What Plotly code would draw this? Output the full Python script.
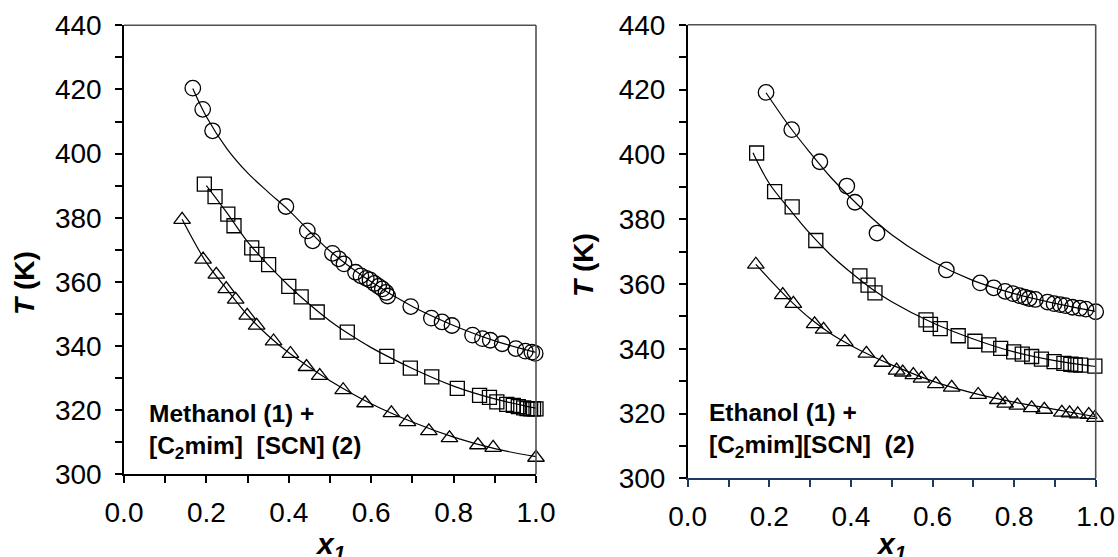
import plotly.graph_objects as go

# ---------------- Methanol (1) + [C2mim][SCN] (2) ----------------
meoh_circ_x = [0.167, 0.191, 0.215, 0.393, 0.445, 0.458, 0.506, 0.521, 0.534, 0.562, 0.575,
               0.588, 0.597, 0.608, 0.618, 0.627, 0.636, 0.640, 0.696, 0.746, 0.772, 0.796,
               0.846, 0.870, 0.889, 0.918, 0.951, 0.974, 0.990, 0.998]
meoh_circ_T = [420.4, 413.8, 407.1, 383.5, 375.9, 372.8, 368.9, 367.2, 365.6, 363.0, 361.9,
               361.1, 360.6, 359.5, 358.6, 357.8, 356.7, 355.6, 352.3, 348.7, 347.5, 346.4,
               343.4, 342.3, 341.8, 340.7, 339.2, 338.4, 338.1, 337.7]

meoh_sq_x = [0.195, 0.221, 0.252, 0.267, 0.310, 0.323, 0.351, 0.400, 0.430, 0.469, 0.542,
             0.638, 0.695, 0.747, 0.809, 0.863, 0.887, 0.905, 0.929, 0.945, 0.957, 0.970,
             0.978, 0.987, 0.994, 1.000]
meoh_sq_T = [390.5, 386.6, 381.1, 377.5, 370.6, 368.6, 365.4, 358.6, 355.3, 350.6, 344.3,
             336.8, 333.1, 330.4, 326.8, 324.6, 324.0, 322.6, 321.8, 321.5, 321.1, 320.7,
             320.5, 320.4, 320.4, 320.4]

meoh_tri_x = [0.141, 0.192, 0.224, 0.248, 0.271, 0.299, 0.322, 0.363, 0.404, 0.443, 0.475,
              0.532, 0.585, 0.649, 0.688, 0.740, 0.790, 0.859, 0.896, 1.000]
meoh_tri_T = [379.4, 367.0, 362.3, 357.8, 354.5, 349.5, 346.4, 341.5, 337.6, 333.5, 330.7,
              326.3, 322.2, 319.1, 316.3, 313.5, 311.3, 309.1, 308.3, 305.2]

# fitted curves
meoh_fit_circ_x = [0.167, 0.2, 0.25, 0.3, 0.35, 0.4, 0.45, 0.5, 0.6, 0.7, 0.8, 0.9, 1.0]
meoh_fit_circ_T = [420.3, 411.5, 401.5, 394.0, 388.0, 382.3, 375.8, 369.6, 360.0, 352.3, 346.4, 341.6, 338.0]
meoh_fit_sq_x = [0.2, 0.25, 0.3, 0.35, 0.4, 0.45, 0.5, 0.55, 0.6, 0.7, 0.8, 0.9, 1.0]
meoh_fit_sq_T = [390.0, 381.5, 372.5, 365.3, 358.8, 353.0, 347.8, 343.4, 339.5, 333.0, 327.5, 323.5, 320.6]
meoh_fit_tri_x = [0.141, 0.2, 0.25, 0.3, 0.35, 0.4, 0.45, 0.5, 0.6, 0.7, 0.8, 0.9, 1.0]
meoh_fit_tri_T = [379.5, 366.0, 357.6, 349.6, 343.2, 337.9, 333.4, 329.2, 322.0, 316.3, 311.6, 308.0, 305.5]

# ---------------- Ethanol (1) + [C2mim][SCN] (2) ----------------
etoh_circ_x = [0.192, 0.255, 0.324, 0.390, 0.410, 0.464, 0.634, 0.717, 0.750, 0.778, 0.797,
               0.813, 0.826, 0.837, 0.852, 0.882, 0.898, 0.913, 0.926, 0.943, 0.961, 0.976, 1.000]
etoh_circ_T = [419.1, 407.6, 397.7, 390.2, 385.2, 375.7, 364.3, 360.3, 358.8, 357.7, 357.0,
               356.4, 355.9, 355.5, 355.2, 354.4, 353.9, 353.6, 353.3, 352.8, 352.5, 352.2, 351.4]

etoh_sq_x = [0.169, 0.213, 0.256, 0.314, 0.422, 0.442, 0.459, 0.584, 0.595, 0.619, 0.663,
             0.704, 0.738, 0.767, 0.799, 0.820, 0.843, 0.867, 0.898, 0.922, 0.939, 0.950, 0.963, 0.998]
etoh_sq_T = [400.4, 388.5, 383.8, 373.4, 362.5, 359.6, 357.2, 348.9, 347.5, 346.2, 344.0,
             342.3, 341.2, 340.1, 339.0, 338.3, 337.6, 336.8, 336.0, 335.5, 335.2, 335.0, 334.9, 334.6]

etoh_tri_x = [0.167, 0.233, 0.259, 0.311, 0.333, 0.385, 0.438, 0.477, 0.512, 0.527, 0.553,
              0.573, 0.608, 0.647, 0.712, 0.760, 0.778, 0.808, 0.843, 0.874, 0.917, 0.936,
              0.956, 0.983, 0.998]
etoh_tri_T = [366.0, 356.6, 353.9, 347.6, 345.9, 342.1, 338.5, 335.7, 333.3, 332.7, 331.9,
              330.8, 329.1, 328.0, 325.8, 324.2, 323.1, 322.5, 321.7, 321.2, 320.3, 320.1,
              319.8, 319.6, 318.7]

etoh_fit_circ_x = [0.192, 0.25, 0.3, 0.35, 0.4, 0.45, 0.5, 0.6, 0.7, 0.8, 0.9, 1.0]
etoh_fit_circ_T = [419.0, 408.5, 400.5, 393.0, 386.5, 380.5, 375.2, 367.0, 361.0, 357.0, 354.0, 351.5]
etoh_fit_sq_x = [0.16, 0.2, 0.25, 0.3, 0.35, 0.4, 0.45, 0.5, 0.6, 0.7, 0.8, 0.9, 1.0]
etoh_fit_sq_T = [400.5, 391.0, 383.0, 375.5, 369.0, 363.5, 358.6, 354.5, 348.0, 343.0, 339.0, 336.3, 334.5]
etoh_fit_tri_x = [0.167, 0.2, 0.25, 0.3, 0.35, 0.4, 0.45, 0.5, 0.6, 0.7, 0.8, 0.9, 1.0]
etoh_fit_tri_T = [366.0, 361.5, 355.0, 349.3, 344.7, 341.0, 337.8, 335.0, 330.0, 326.3, 323.5, 321.3, 319.0]

x_ticks = [0.0, 0.2, 0.4, 0.6, 0.8, 1.0]
y_ticks = [300, 320, 340, 360, 380, 400, 420, 440]

FONT = "Arial, 'Liberation Sans', sans-serif"
W, H = 1118, 557

fig = go.Figure()

def add_panel(xa, ya, fits, sets):
    for fx, fy in fits:
        fig.add_trace(go.Scatter(x=fx, y=fy, mode="lines", xaxis=xa, yaxis=ya,
                                 line=dict(color="black", width=1.2, shape="spline", smoothing=1.0),
                                 hoverinfo="skip", showlegend=False, cliponaxis=False))
    for sx, sy, sym, sz in sets:
        fig.add_trace(go.Scatter(x=sx, y=sy, mode="markers", xaxis=xa, yaxis=ya,
                                 marker=dict(symbol=sym, size=sz, color="black",
                                             line=dict(color="black", width=1.3)),
                                 showlegend=False, cliponaxis=False))

add_panel("x", "y",
          [(meoh_fit_circ_x, meoh_fit_circ_T), (meoh_fit_sq_x, meoh_fit_sq_T), (meoh_fit_tri_x, meoh_fit_tri_T)],
          [(meoh_circ_x, meoh_circ_T, "circle-open", 15.5),
           (meoh_sq_x, meoh_sq_T, "square-open", 14),
           (meoh_tri_x, meoh_tri_T, "triangle-up-open", 14.5)])
add_panel("x2", "y2",
          [(etoh_fit_circ_x, etoh_fit_circ_T), (etoh_fit_sq_x, etoh_fit_sq_T), (etoh_fit_tri_x, etoh_fit_tri_T)],
          [(etoh_circ_x, etoh_circ_T, "circle-open", 15.5),
           (etoh_sq_x, etoh_sq_T, "square-open", 14),
           (etoh_tri_x, etoh_tri_T, "triangle-up-open", 14.5)])

TICK_FONT = dict(family=FONT, size=28, color="black")

def xaxis_cfg(dom, anchor, color):
    return dict(domain=dom, anchor=anchor, range=[0, 1], tickvals=x_ticks,
                ticktext=[f"{v:.1f}" for v in x_ticks], automargin=False,
                showgrid=False, zeroline=False, showline=True, linecolor=color, linewidth=1.5,
                ticks="outside", ticklen=7, tickwidth=1.5, tickcolor=color,
                minor=dict(dtick=0.1, tick0=0, ticks="outside", ticklen=7, tickwidth=1.5, tickcolor=color),
                tickfont=TICK_FONT, ticklabelstandoff=5)

def yaxis_cfg(dom, anchor):
    return dict(domain=dom, anchor=anchor, range=[300, 440], tickvals=y_ticks, automargin=False,
                showgrid=False, zeroline=False, showline=True, linecolor="black", linewidth=1.5,
                ticks="outside", ticklen=7, tickwidth=1.5, tickcolor="black",
                minor=dict(dtick=10, tick0=300, ticks="outside", ticklen=7, tickwidth=1.5, tickcolor="black"),
                tickfont=TICK_FONT, ticklabelstandoff=8)

fig.update_layout(
    width=W, height=H, margin=dict(l=0, r=0, t=0, b=0, autoexpand=False),
    paper_bgcolor="white", plot_bgcolor="white",
    xaxis=xaxis_cfg([124 / W, 536 / W], "y", "black"),
    yaxis=yaxis_cfg([1 - 474.3 / H, 1 - 25.3 / H], "x"),
    xaxis2=xaxis_cfg([687.7 / W, 1095.7 / W], "y2", "#1f3864"),
    yaxis2=yaxis_cfg([1 - 478.3 / H, 1 - 24.7 / H], "x2"),
)

# top / right frame lines
for xr, yr in (("x domain", "y domain"), ("x2 domain", "y2 domain")):
    fig.add_shape(type="line", xref=xr, yref=yr, x0=0, x1=1, y0=1, y1=1,
                  line=dict(color="#505050", width=1.6))
    fig.add_shape(type="line", xref=xr, yref=yr, x0=1, x1=1, y0=0, y1=1,
                  line=dict(color="#505050", width=1.6))

ann_font = dict(family=FONT, size=24.5, color="black")
title_font = dict(family=FONT, size=28, color="black")
fig.add_annotation(xref="paper", yref="paper", x=147 / W, y=1 - 431 / H, xanchor="left", yanchor="middle",
                   text="<b>Methanol (1) +<br>[C<sub>2</sub>mim]\u00a0 [SCN] (2)</b>", showarrow=False,
                   align="left", font=ann_font)
fig.add_annotation(xref="paper", yref="paper", x=707 / W, y=1 - 430 / H, xanchor="left", yanchor="middle",
                   text="<b>Ethanol (1) +<br>[C<sub>2</sub>mim][SCN]\u00a0 (2)</b>", showarrow=False,
                   align="left", font=ann_font)
# axis titles
fig.add_annotation(xref="paper", yref="paper", x=24 / W, y=1 - 283 / H, xanchor="center", yanchor="middle",
                   text="<b><i>T</i> (K)</b>", textangle=-90, showarrow=False, font=title_font)
fig.add_annotation(xref="paper", yref="paper", x=583 / W, y=1 - 265 / H, xanchor="center", yanchor="middle",
                   text="<b><i>T</i> (K)</b>", textangle=-90, showarrow=False, font=title_font)
fig.add_annotation(xref="paper", yref="paper", x=330 / W, y=1 - 545 / H, xanchor="center", yanchor="middle",
                   text="<b><i>x<sub>1</sub></i></b>", showarrow=False, font=dict(family=FONT, size=30, color="black"))
fig.add_annotation(xref="paper", yref="paper", x=891 / W, y=1 - 545 / H, xanchor="center", yanchor="middle",
                   text="<b><i>x<sub>1</sub></i></b>", showarrow=False, font=dict(family=FONT, size=30, color="black"))

fig.write_html("out.html", config={"displayModeBar": False},
               post_script="document.body.style.margin='0';document.body.style.overflow='hidden';")
